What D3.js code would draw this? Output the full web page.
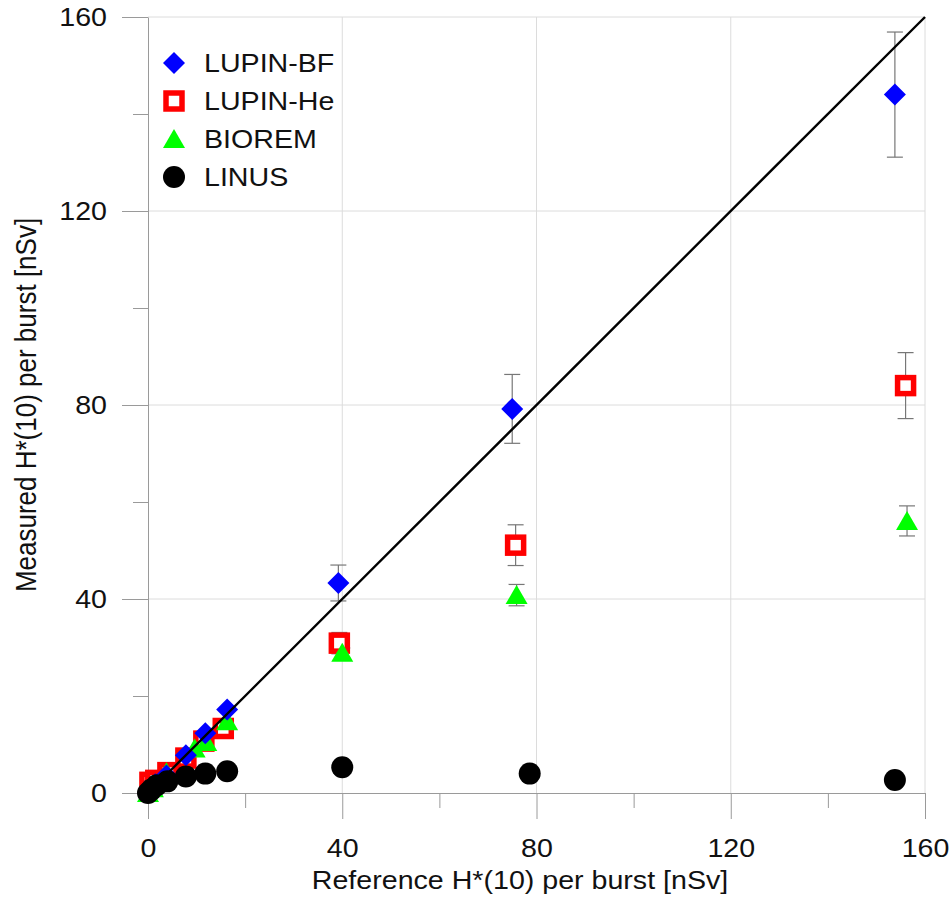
<!DOCTYPE html>
<html>
<head>
<meta charset="utf-8">
<script src="https://cdn.jsdelivr.net/npm/d3@7"></script>
<style>
  body { margin: 0; background: #fff; }
  svg { display: block; font-family: "Liberation Sans", Arial, sans-serif; }
</style>
</head>
<body>
<svg id="chart" width="952" height="899"></svg>
<script>
// ---- data ----
const majorTicks = [0, 40, 80, 120, 160];
const minorTicks = [20, 60, 100, 140];

const seriesNames = ["LUPIN-BF", "LUPIN-He", "BIOREM", "LINUS"];

// [reference, measured, error]
const lupinBF = [
  [0.3, 0.5, 0], [1.5, 1.8, 0], [3.8, 3.6, 0], [7.8, 7.8, 0], [11.8, 12.3, 0],
  [16.3, 17.2, 0], [39.2, 43.3, 3.7], [75.0, 79.2, 7.1], [153.8, 144.0, 12.9]
];
const lupinHe = [
  [0.4, 2.2, 0], [1.6, 2.6, 0], [4.1, 4.2, 0], [7.8, 7.2, 0], [11.5, 10.7, 0],
  [15.5, 13.3, 0], [39.4, 30.9, 2.2], [75.7, 51.1, 4.2], [156.0, 84.0, 6.8]
];
const biorem = [
  [0.0, 0.0, 0], [1.0, 1.0, 0], [3.8, 4.3, 0], [9.6, 9.2, 0], [12.0, 10.5, 0],
  [16.3, 14.8, 0], [40.0, 28.9, 1.0], [75.9, 40.8, 2.2], [156.3, 56.1, 3.1]
];
const linus = [
  [0.0, 0.0, 0], [0.7, 0.7, 0], [1.8, 1.6, 0], [4.0, 2.4, 0], [7.8, 3.4, 0],
  [11.8, 4.0, 0], [16.3, 4.5, 0], [40.0, 5.3, 0], [78.6, 4.0, 0], [153.8, 2.7, 0]
];

const xTitle = "Reference H*(10) per burst [nSv]";
const yTitle = "Measured H*(10) per burst [nSv]";

// ---- layout ----
const svg = d3.select("#chart");
const x = d3.scaleLinear().domain([0, 160]).range([148, 925]);
const y = d3.scaleLinear().domain([0, 160]).range([793, 17]);
const axisColor = "#9a9a9a";
const gridColor = "#dcdcdc";
const fontSize = 26;
const stretch = 1.1;   // glyphs in the reference are slightly wide

// gridlines
const grid = svg.append("g");
grid.selectAll("line.gx").data(majorTicks.filter(d => d > 0)).join("line")
  .attr("x1", d => x(d)).attr("x2", d => x(d))
  .attr("y1", y(0)).attr("y2", y(160))
  .attr("stroke", gridColor).attr("stroke-width", 1);
grid.selectAll("line.gy").data(majorTicks.filter(d => d > 0)).join("line")
  .attr("x1", x(0)).attr("x2", x(160))
  .attr("y1", d => y(d)).attr("y2", d => y(d))
  .attr("stroke", gridColor).attr("stroke-width", 1);

// axes
function styleAxis(g) {
  g.select(".domain").attr("stroke", axisColor);
  g.selectAll(".tick line").attr("stroke", axisColor);
  g.selectAll("text").attr("fill", "#111").attr("font-size", fontSize)
    .attr("font-family", "'Liberation Sans', Arial, sans-serif");
}
const xAxis = svg.append("g").attr("transform", `translate(0,${y(0)})`)
  .call(d3.axisBottom(x).tickValues(majorTicks).tickSize(26).tickPadding(20).tickSizeOuter(0));
styleAxis(xAxis);
xAxis.selectAll(".tick text").attr("transform", `scale(${stretch},1)`);
const xMinor = svg.append("g").attr("transform", `translate(0,${y(0)})`)
  .call(d3.axisBottom(x).tickValues(minorTicks).tickSize(15).tickFormat("").tickSizeOuter(0));
styleAxis(xMinor);
xMinor.select(".domain").remove();

const yAxis = svg.append("g").attr("transform", `translate(${x(0)},0)`)
  .call(d3.axisLeft(y).tickValues(majorTicks).tickSize(26).tickPadding(15).tickSizeOuter(0));
styleAxis(yAxis);
yAxis.selectAll(".tick text").attr("x", 0)
  .attr("transform", `translate(-41,0) scale(${stretch},1)`);
const yMinor = svg.append("g").attr("transform", `translate(${x(0)},0)`)
  .call(d3.axisLeft(y).tickValues(minorTicks).tickSize(15).tickFormat("").tickSizeOuter(0));
styleAxis(yMinor);
yMinor.select(".domain").remove();

// titles
svg.append("text").attr("transform", `translate(520,889) scale(${stretch},1)`)
  .attr("text-anchor", "middle")
  .attr("font-size", fontSize).attr("fill", "#111").text(xTitle);
svg.append("text").attr("transform", `translate(36,405) scale(${stretch},1) rotate(-90)`)
  .attr("text-anchor", "middle").attr("font-size", fontSize).attr("fill", "#111").text(yTitle);

// error bars
const errColor = "#777";
function errorBars(data) {
  const g = svg.append("g");
  const d = data.filter(p => p[2] > 0);
  g.selectAll("line.v").data(d).join("line")
    .attr("x1", p => x(p[0])).attr("x2", p => x(p[0]))
    .attr("y1", p => y(p[1] - p[2])).attr("y2", p => y(p[1] + p[2]))
    .attr("stroke", errColor).attr("stroke-width", 1.2);
  ["lo", "hi"].forEach(k => {
    g.selectAll("line." + k).data(d).join("line")
      .attr("x1", p => x(p[0]) - 8).attr("x2", p => x(p[0]) + 8)
      .attr("y1", p => y(k === "lo" ? p[1] - p[2] : p[1] + p[2]))
      .attr("y2", p => y(k === "lo" ? p[1] - p[2] : p[1] + p[2]))
      .attr("stroke", errColor).attr("stroke-width", 1.2);
  });
}
[lupinBF, lupinHe, biorem].forEach(errorBars);

// markers
const diamondPath = "M0,-11L11,0L0,11L-11,0Z";
const trianglePath = "M0,-10L11,9L-11,9Z";
function drawMarker(g, type) {
  if (type === 0) g.append("path").attr("d", diamondPath).attr("fill", "#0000ff");
  else if (type === 1) g.append("rect").attr("x", -8).attr("y", -8).attr("width", 16).attr("height", 16)
    .attr("fill", "#fff").attr("stroke", "#ff0000").attr("stroke-width", 5.5);
  else if (type === 2) g.append("path").attr("d", trianglePath).attr("fill", "#00ff00");
  else g.append("circle").attr("r", 11).attr("fill", "#000");
}
function drawSeries(data, type) {
  const g = svg.append("g");
  data.forEach(p => {
    const m = g.append("g").attr("transform", `translate(${x(p[0])},${y(p[1])})`);
    drawMarker(m, type);
  });
}
drawSeries(lupinHe, 1);
drawSeries(biorem, 2);
drawSeries(lupinBF, 0);

// identity line
svg.append("line").attr("x1", x(0)).attr("y1", y(0)).attr("x2", x(160)).attr("y2", y(160))
  .attr("stroke", "#000").attr("stroke-width", 2.4);

drawSeries(linus, 3);

// legend
const legend = svg.append("g");
seriesNames.forEach((name, i) => {
  const row = legend.append("g").attr("transform", `translate(174,${63 + i * 38})`);
  drawMarker(row, i);
  row.append("text").attr("transform", `translate(30,0) scale(${stretch},1)`)
    .attr("dy", "0.36em")
    .attr("font-size", fontSize).attr("fill", "#111").text(name);
});
</script>
</body>
</html>
